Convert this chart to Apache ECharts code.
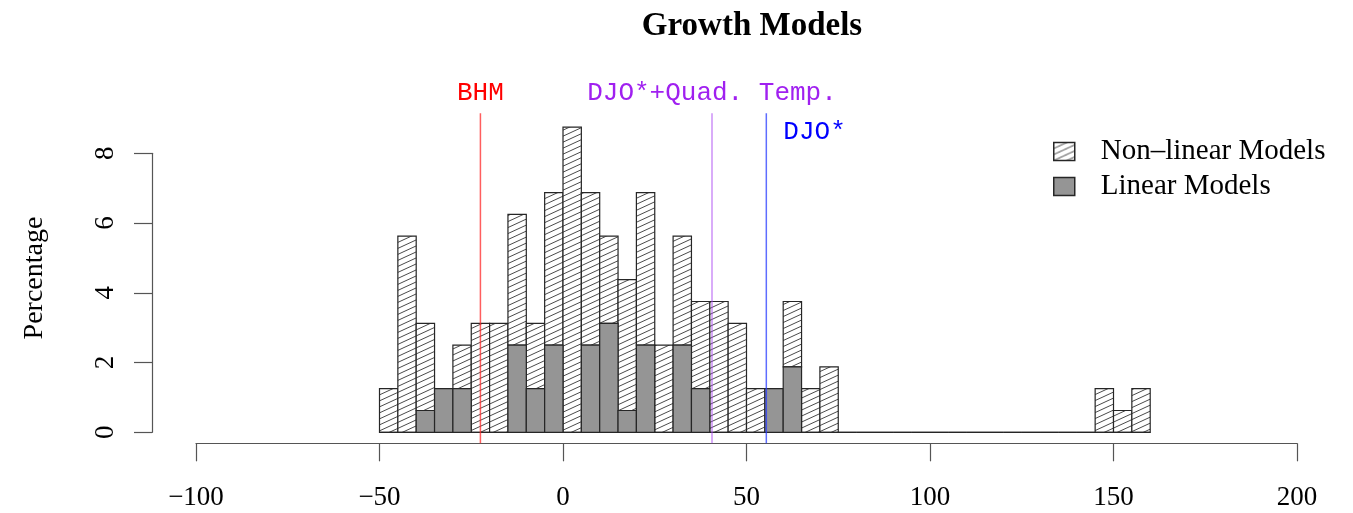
<!DOCTYPE html>
<html>
<head>
<meta charset="utf-8">
<style>
  html, body { margin: 0; padding: 0; background: #fff; }
  #chart { width: 1353px; height: 513px; }
</style>
<script src="https://cdn.jsdelivr.net/npm/echarts@6/dist/echarts.min.js"></script>
</head>
<body>
<div id="chart"></div>
<script>
// Histogram bins (lower edges, width 5)
const binStart = [-50, -45, -40, -35, -30, -25, -20, -15, -10, -5,
                  0, 5, 10, 15, 20, 25, 30, 35, 40, 45,
                  50, 55, 60, 65, 70, 75, 80, 85, 90, 95,
                  100, 105, 110, 115, 120, 125, 130, 135, 140, 145,
                  150, 155];
const binWidth = 5;

// Percentage of estimates per bin
const linearPct = [0, 0, 0.625, 1.25, 1.25, 0, 0, 2.5, 1.25, 2.5,
                   0, 2.5, 3.125, 0.625, 2.5, 0, 2.5, 1.25, 0, 0,
                   0, 1.25, 1.875, 0, 0, 0, 0, 0, 0, 0,
                   0, 0, 0, 0, 0, 0, 0, 0, 0, 0,
                   0, 0];
const nonLinearPct = [1.25, 5.625, 2.5, 0, 1.25, 3.125, 3.125, 3.75, 1.875, 4.375,
                      8.75, 4.375, 2.5, 3.75, 4.375, 2.5, 3.125, 2.5, 3.75, 3.125,
                      1.25, 0, 1.875, 1.25, 1.875, 0, 0, 0, 0, 0,
                      0, 0, 0, 0, 0, 0, 0, 0, 0, 1.25,
                      0.625, 1.25];

// Reference estimates marked by vertical lines
const refNames = ['BHM', 'DJO*+Quad. Temp.', 'DJO*'];
const refValues = [-22.5, 40.6, 55.4];
const refColors = ['#ff0000', '#a020f0', '#0000ff'];
const refLineColors = ['rgba(255,40,40,0.75)', 'rgba(170,70,240,0.6)', 'rgba(40,60,255,0.75)'];
// label placement: [dx, dy from line top, align]
const refLabelPlace = [[0, -20, 'center'], [0, -20, 'center'], [17, 19, 'left']];

const xTicks = [-100, -50, 0, 50, 100, 150, 200];
const yTicks = [0, 2, 4, 6, 8];

// diagonal hatching tile
function hatchPattern() {
  const w = 13, h = 6;
  const c = document.createElement('canvas');
  c.width = w; c.height = h;
  const g = c.getContext('2d');
  g.fillStyle = '#ffffff';
  g.fillRect(0, 0, w, h);
  g.strokeStyle = '#4a4a4a';
  g.lineWidth = 1;
  for (const off of [-h, 0, h]) {
    g.beginPath();
    g.moveTo(-w, 2 * h + off);
    g.lineTo(2 * w, -h + off);
    g.stroke();
  }
  return { image: c, repeat: 'repeat' };
}
const hatch = hatchPattern();
const solidGray = '#959595';
const edge = '#262626';

const linearData = binStart.map((s, i) => [s, 0, linearPct[i]]);
const nonLinearData = binStart.map((s, i) => [s, linearPct[i], linearPct[i] + nonLinearPct[i]]);

function barRenderer(fill) {
  return function (params, api) {
    const x0 = api.value(0);
    const p0 = api.coord([x0, api.value(1)]);
    const p1 = api.coord([x0 + binWidth, api.value(2)]);
    return {
      type: 'rect',
      shape: { x: p0[0], y: p1[1], width: p1[0] - p0[0], height: p0[1] - p1[1] },
      style: { fill: fill, stroke: edge, lineWidth: 1.2 }
    };
  };
}

const serif = 'Liberation Serif';
const mono = 'Liberation Mono';

const chart = echarts.init(document.getElementById('chart'), null, { renderer: 'canvas' });
chart.setOption({
  animation: false,
  backgroundColor: '#ffffff',
  title: {
    text: 'Growth Models',
    left: 747,
    top: 5,
    textAlign: 'center',
    textStyle: { fontFamily: serif, fontWeight: 'bold', fontSize: 33, color: '#000' }
  },
  legend: {
    orient: 'vertical',
    left: 1053,
    top: 137,
    padding: 0,
    itemWidth: 21,
    itemHeight: 18,
    itemGap: 6,
    icon: 'rect',
    textStyle: { fontFamily: serif, fontSize: 29, color: '#000', padding: [0, 0, 0, 21] },
    data: [
      { name: 'Non\u2013linear Models', itemStyle: { color: hatch, borderColor: edge, borderWidth: 1.5 } },
      { name: 'Linear Models', itemStyle: { color: solidGray, borderColor: edge, borderWidth: 1.5 } }
    ]
  },
  grid: { left: 196, right: 56, top: 153.3, bottom: 80.7, containLabel: false },
  xAxis: {
    type: 'value',
    min: xTicks[0],
    max: xTicks[xTicks.length - 1],
    interval: 50,
    offset: 11,
    splitLine: { show: false },
    axisLine: { show: true, onZero: false, lineStyle: { color: '#555', width: 1.2 } },
    axisTick: { show: true, length: 18, lineStyle: { color: '#555', width: 1.2 } },
    axisLabel: {
      margin: 41,
      fontFamily: serif, fontSize: 27, color: '#000',
      formatter: v => (v < 0 ? '\u2212' + Math.abs(v) : String(v))
    }
  },
  yAxis: {
    type: 'value',
    min: yTicks[0],
    max: yTicks[yTicks.length - 1],
    interval: 2,
    offset: 44,
    splitLine: { show: false },
    axisLine: { show: true, onZero: false, lineStyle: { color: '#555', width: 1.2 } },
    axisTick: { show: true, length: 18, lineStyle: { color: '#555', width: 1.2 } },
    axisLabel: { rotate: 90, margin: 33, fontFamily: serif, fontSize: 27, color: '#000' }
  },
  graphic: [{
    type: 'text',
    x: 35, y: 278,
    rotation: Math.PI / 2,
    style: {
      text: 'Percentage', fontFamily: serif, fontSize: 28, fill: '#000',
      align: 'center', verticalAlign: 'middle'
    }
  }],
  series: [
    {
      name: 'Linear Models',
      type: 'custom',
      clip: false,
      itemStyle: { color: solidGray },
      renderItem: barRenderer(solidGray),
      encode: { x: [0], y: [1, 2] },
      data: linearData,
      z: 3
    },
    {
      name: 'Non\u2013linear Models',
      type: 'custom',
      clip: false,
      itemStyle: { color: hatch },
      renderItem: barRenderer(hatch),
      encode: { x: [0], y: [1, 2] },
      data: nonLinearData,
      z: 2
    },
    {
      name: 'reference',
      type: 'custom',
      clip: false,
      silent: true,
      z: 5,
      data: refValues.map((v, i) => [v, i]),
      renderItem: function (params, api) {
        const i = api.value(1);
        const cs = params.coordSys;
        const x = api.coord([api.value(0), 0])[0];
        const yTop = cs.y - 40;
        const yBot = cs.y + cs.height + 11;
        const place = refLabelPlace[i];
        return {
          type: 'group',
          children: [
            { type: 'line', shape: { x1: x, y1: yTop, x2: x, y2: yBot },
              style: { stroke: refLineColors[i], lineWidth: 1.5 } },
            { type: 'text', x: x + place[0], y: yTop + place[1],
              style: { text: refNames[i], fontFamily: mono, fontSize: 26,
                       fill: refColors[i], align: place[2], verticalAlign: 'middle' } }
          ]
        };
      }
    }
  ]
});
</script>
</body>
</html>
